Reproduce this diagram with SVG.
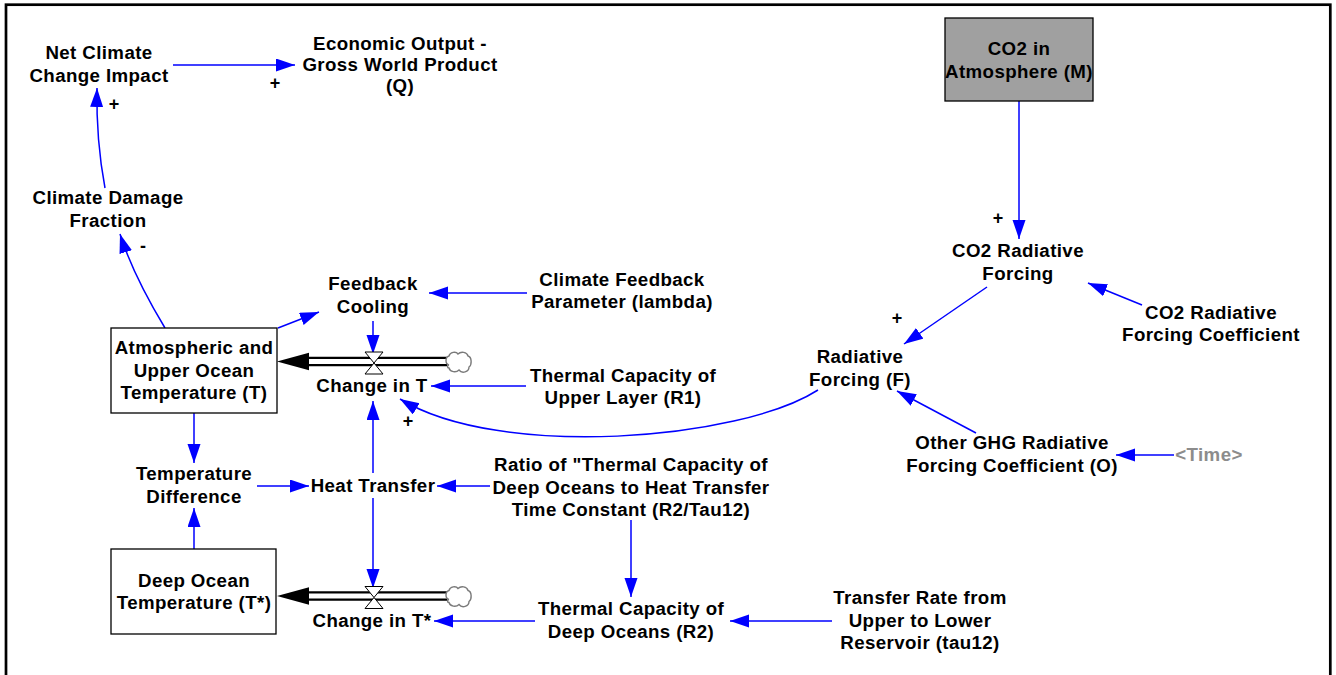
<svg xmlns="http://www.w3.org/2000/svg" width="1336" height="675" viewBox="0 0 1336 675">
  <defs>
    <style>
      .t{font-family:"Liberation Sans",Arial,sans-serif;font-weight:bold;font-size:18.7px;letter-spacing:0.4px;fill:#000;text-anchor:middle}
      .sg{font-family:"Liberation Sans",Arial,sans-serif;font-weight:bold;font-size:18px;fill:#000;text-anchor:middle}
      .gray{fill:#8c8c8c}
      .lk{fill:none;stroke:#0000ff;stroke-width:1.5;marker-end:url(#arr)}
      .stock{fill:#fff;stroke:#000;stroke-width:1.3}
      .pipeo{stroke:#000;stroke-width:9.5}
      .pipei{stroke:#fff;stroke-width:5}
      .valve{fill:#fff;stroke:#000;stroke-width:1}
      .cloud{fill:#fff;stroke:#7a7a7a;stroke-width:1.4}
    </style>
    <marker id="arr" markerUnits="userSpaceOnUse" markerWidth="20" markerHeight="14" refX="19" refY="6.5" orient="auto" viewBox="0 0 20 14">
      <path d="M0,0 L19,6.5 L0,13 Z" fill="#0000ff"/>
    </marker>
    <path id="cloudShape" d="M4,14 C0,13 0,6 4,5 C5,1 11,0 13,3 C16,0 22,1 23,5 C27,6 27,14 24,16 C24,21 17,23 14,19 C11,22 5,21 4,17 C2,17 2,14 4,14 Z"/>
  </defs>

  <rect width="1336" height="675" fill="#fff"/>
  <!-- outer frame (bottom edge runs off the canvas) -->
  <rect x="6" y="4.7" width="1324.3" height="700" fill="none" stroke="#000" stroke-width="2.7"/>

  <!-- causal links -->
  <g id="connectors">
    <path class="lk" d="M173,65 L295,65"/>
    <path class="lk" d="M105,188 Q96,140 97,88"/>
    <path class="lk" d="M165,328 Q133,275 120,234"/>
    <path class="lk" d="M278,328 L319,312"/>
    <path class="lk" d="M527,293 L429,293"/>
    <path class="lk" d="M373,321 L373,354"/>
    <path class="lk" d="M526,386 L431,386"/>
    <path class="lk" d="M818,390 C740,440 500,460 400,399"/>
    <path class="lk" d="M373,473 L373,401"/>
    <path class="lk" d="M194,413 L194,463"/>
    <path class="lk" d="M194,549 L194,508"/>
    <path class="lk" d="M257,486 L309,486"/>
    <path class="lk" d="M490,486 L437,486"/>
    <path class="lk" d="M373,498 L373,588"/>
    <path class="lk" d="M631,520 L631,597"/>
    <path class="lk" d="M535,621 L434,621"/>
    <path class="lk" d="M832,621 L730,621"/>
    <path class="lk" d="M1019,101 L1019,239"/>
    <path class="lk" d="M987,287 L904,344"/>
    <path class="lk" d="M1142,305 L1088,283"/>
    <path class="lk" d="M976,433 L897,391"/>
    <path class="lk" d="M1174,455 L1116,455"/>
    <!-- polarity signs -->
    <text class="sg" x="275" y="89">+</text>
    <text class="sg" x="114" y="110">+</text>
    <text class="sg" x="143" y="252">-</text>
    <text class="sg" x="408" y="427">+</text>
    <text class="sg" x="998" y="224">+</text>
    <text class="sg" x="897" y="324">+</text>
  </g>

  <!-- flow into the upper layer -->
  <g id="flow-change-in-T">
    <line class="pipeo" x1="308" y1="361.5" x2="447" y2="361.5"/>
    <line class="pipei" x1="308" y1="361.5" x2="447" y2="361.5"/>
    <polygon points="277,361.5 309,352.7 309,370.3" fill="#000"/>
    <use href="#cloudShape" class="cloud" x="445" y="351"/>
    <polygon class="valve" points="365,352 383,352 374,363"/>
    <polygon class="valve" points="374,363 365,374 383,374"/>
    <text class="t" x="372" y="392">Change in T</text>
  </g>

  <!-- flow into the deep ocean -->
  <g id="flow-change-in-Tstar">
    <line class="pipeo" x1="308" y1="596" x2="447" y2="596"/>
    <line class="pipei" x1="308" y1="596" x2="447" y2="596"/>
    <polygon points="277,596 309,587.2 309,604.8" fill="#000"/>
    <use href="#cloudShape" class="cloud" x="445" y="585.5"/>
    <polygon class="valve" points="365,586.5 383,586.5 374,597.5"/>
    <polygon class="valve" points="374,597.5 365,608.5 383,608.5"/>
    <text class="t" x="372" y="627">Change in T*</text>
  </g>

  <g id="stock-atmospheric-temperature">
    <rect class="stock" x="111" y="328" width="166" height="85"/>
    <text class="t" x="194" y="354">Atmospheric and</text>
    <text class="t" x="194" y="377">Upper Ocean</text>
    <text class="t" x="194" y="399">Temperature (T)</text>
  </g>

  <g id="stock-deep-ocean-temperature">
    <rect class="stock" x="111" y="549" width="165" height="85"/>
    <text class="t" x="194" y="587">Deep Ocean</text>
    <text class="t" x="194" y="609">Temperature (T*)</text>
  </g>

  <g id="stock-co2-atmosphere">
    <rect x="945" y="18" width="148" height="83" fill="#a0a0a0" stroke="#000" stroke-width="1.3"/>
    <text class="t" x="1019" y="55">CO2 in</text>
    <text class="t" x="1019" y="77.5">Atmosphere (M)</text>
  </g>

  <g id="net-climate-change-impact">
    <text class="t" x="99" y="59">Net Climate</text>
    <text class="t" x="99" y="82">Change Impact</text>
  </g>

  <g id="economic-output">
    <text class="t" x="400" y="49.5">Economic Output -</text>
    <text class="t" x="400" y="71">Gross World Product</text>
    <text class="t" x="400" y="92">(Q)</text>
  </g>

  <g id="climate-damage-fraction">
    <text class="t" x="108" y="204">Climate Damage</text>
    <text class="t" x="108" y="227">Fraction</text>
  </g>

  <g id="feedback-cooling">
    <text class="t" x="373" y="290">Feedback</text>
    <text class="t" x="373" y="313">Cooling</text>
  </g>

  <g id="climate-feedback-parameter">
    <text class="t" x="622" y="286">Climate Feedback</text>
    <text class="t" x="622" y="308">Parameter (lambda)</text>
  </g>

  <g id="thermal-capacity-upper">
    <text class="t" x="623" y="382">Thermal Capacity of</text>
    <text class="t" x="623" y="404">Upper Layer (R1)</text>
  </g>

  <g id="radiative-forcing">
    <text class="t" x="860" y="363">Radiative</text>
    <text class="t" x="860" y="386">Forcing (F)</text>
  </g>

  <g id="co2-radiative-forcing">
    <text class="t" x="1018" y="257">CO2 Radiative</text>
    <text class="t" x="1018" y="280">Forcing</text>
  </g>

  <g id="co2-forcing-coefficient">
    <text class="t" x="1211" y="319">CO2 Radiative</text>
    <text class="t" x="1211" y="341">Forcing Coefficient</text>
  </g>

  <g id="other-ghg-coefficient">
    <text class="t" x="1012" y="449">Other GHG Radiative</text>
    <text class="t" x="1012" y="472">Forcing Coefficient (O)</text>
  </g>

  <g id="time">
    <text class="t gray" x="1209" y="461">&lt;Time&gt;</text>
  </g>

  <g id="temperature-difference">
    <text class="t" x="194" y="480">Temperature</text>
    <text class="t" x="194" y="503">Difference</text>
  </g>

  <g id="heat-transfer">
    <text class="t" x="373" y="492">Heat Transfer</text>
  </g>

  <g id="ratio-r2-tau12">
    <text class="t" x="631" y="471">Ratio of "Thermal Capacity of</text>
    <text class="t" x="631" y="494">Deep Oceans to Heat Transfer</text>
    <text class="t" x="631" y="516">Time Constant (R2/Tau12)</text>
  </g>

  <g id="thermal-capacity-deep">
    <text class="t" x="631" y="615">Thermal Capacity of</text>
    <text class="t" x="631" y="638">Deep Oceans (R2)</text>
  </g>

  <g id="transfer-rate">
    <text class="t" x="920" y="604">Transfer Rate from</text>
    <text class="t" x="920" y="627">Upper to Lower</text>
    <text class="t" x="920" y="649">Reservoir (tau12)</text>
  </g>
</svg>
